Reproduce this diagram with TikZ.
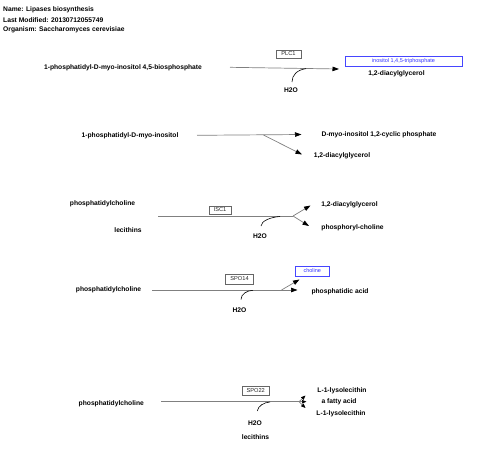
\documentclass[tikz,border=0pt]{standalone}
\usepackage{fontspec}
\setmainfont{Liberation Sans}
\usetikzlibrary{arrows.meta}
\begin{document}
\begin{tikzpicture}[x=1pt,y=-1pt,
  lbl/.style={font=\fontsize{6.7}{8}\selectfont\bfseries, inner sep=0pt},
  hdr/.style={lbl, anchor=west},
  gene/.style={draw=black!60, line width=0.6pt, font=\fontsize{5.7}{7}\selectfont, text=black!85, inner sep=0pt},
  meta/.style={draw={rgb,255:red,70;green,70;blue,255}, line width=0.6pt, text={rgb,255:red,50;green,50;blue,255}, font=\fontsize{5.5}{7}\selectfont, inner sep=0pt},
  rxn/.style={draw=black!50, line width=0.7pt},
  arr/.style={-{Triangle[length=6.5pt,width=4.5pt,color=black]}},
  tiny/.style={-{Triangle[length=4.5pt,width=3.5pt,color=black]}},
  cat/.style={draw=black, line width=0.6pt}
]
\useasboundingbox (0,0) rectangle (480,456);

% header
\node[hdr] (name) at (3,10) {Name: Lipases biosynthesis};
\node[hdr] (mod) at (3,20) {Last Modified: 20130712055749};
\node[hdr] (org) at (3,30) {Organism: Saccharomyces cerevisiae};

% row 1
\node[lbl] (a1) at (123,68) {1-phosphatidyl-D-myo-inositol 4,5-biosphosphate};
\node[gene, minimum width=25pt, minimum height=8pt] (plc1) at (288.5,54) {PLC1};
\node[meta, minimum width=117pt, minimum height=9.5pt] (ip3) at (403.5,61.5) {inositol 1,4,5-triphosphate};
\node[lbl] (dag1) at (396.5,74) {1,2-diacylglycerol};
\node[lbl] (h2o1) at (291,90) {H2O};
\coordinate (a1s) at (230,67.3);
\coordinate (a1e) at (339,69);
\coordinate (a1c) at (292,82);
\coordinate (a1k) at (306,68.6);
\draw[rxn,arr] (a1s) -- (a1e);
\draw[cat] (a1c) .. controls (292,75) and (297,70) .. (a1k);

% row 2
\node[lbl] (b1) at (130,136) {1-phosphatidyl-D-myo-inositol};
\node[lbl] (b2) at (379,135) {D-myo-inositol 1,2-cyclic phosphate};
\node[lbl] (b3) at (342,155.5) {1,2-diacylglycerol};
\coordinate (b1s) at (197,135.3);
\coordinate (b1m) at (263.5,135);
\coordinate (b1e) at (301.5,134.5);
\coordinate (b2e) at (302,154.5);
\draw[rxn,arr] (b1s) -- (b1e);
\draw[rxn,arr] (b1m) -- (b2e);

% row 3
\node[lbl] (c1) at (102.5,204) {phosphatidylcholine};
\node[lbl] (c2) at (128,230) {lecithins};
\node[gene, minimum width=22pt, minimum height=8pt] (isc1) at (220,210) {ISC1};
\node[lbl] (h2o3) at (260,236) {H2O};
\node[lbl] (c3) at (349.5,205) {1,2-diacylglycerol};
\node[lbl] (c4) at (352.5,227.5) {phosphoryl-choline};
\coordinate (c1s) at (158,216);
\coordinate (c1m) at (293,216);
\coordinate (c1e1) at (310.5,205.5);
\coordinate (c1e2) at (309,226);
\coordinate (c1c) at (261,226);
\coordinate (c1k) at (280,216.5);
\draw[rxn] (c1s) -- (c1m);
\draw[rxn,arr] (c1m) -- (c1e1);
\draw[rxn,arr] (c1m) -- (c1e2);
\draw[cat] (c1c) .. controls (261,221) and (271,217) .. (c1k);

% row 4
\node[lbl] (d1) at (108.5,290) {phosphatidylcholine};
\node[gene, minimum width=27.5pt, minimum height=10pt] (spo14) at (239.5,279) {SPO14};
\node[lbl] (h2o4) at (239.5,310.5) {H2O};
\node[meta, minimum width=34pt, minimum height=10pt] (cho) at (312.3,271) {choline};
\node[lbl] (d2) at (340,292) {phosphatidic acid};
\coordinate (d1s) at (152,290);
\coordinate (d1e) at (297.5,290);
\coordinate (d1m) at (281.5,290);
\coordinate (d2e) at (299.5,279.5);
\coordinate (d1c) at (241,299.5);
\coordinate (d1k) at (253,290.3);
\draw[rxn,arr] (d1s) -- (d1e);
\draw[rxn,arr] (d1m) -- (d2e);
\draw[cat] (d1c) .. controls (241,294) and (247,290.5) .. (d1k);

% row 5
\node[lbl] (e1) at (111.3,404) {phosphatidylcholine};
\node[gene, minimum width=26.7pt, minimum height=9.3pt] (spo22) at (255.7,390.7) {SPO22};
\node[lbl] (h2o5) at (255,422.7) {H2O};
\node[lbl] (e2) at (255.5,436.7) {lecithins};
\node[lbl] (e3) at (342,391) {L-1-lysolecithin};
\node[lbl] (e4) at (339,401.7) {a fatty acid};
\node[lbl] (e5) at (341,413.3) {L-1-lysolecithin};
\coordinate (e1s) at (161,401.7);
\coordinate (e1m) at (299,401.7);
\coordinate (e1t1) at (305.5,395.5);
\coordinate (e1t2) at (306.5,401.7);
\coordinate (e1t3) at (305.5,408);
\coordinate (e1c) at (257.3,411);
\coordinate (e1k) at (270,402);
\draw[rxn] (e1s) -- (e1m);
\draw[rxn,tiny] (e1m) -- (e1t1);
\draw[rxn,tiny] (e1m) -- (e1t2);
\draw[rxn,tiny] (e1m) -- (e1t3);
\draw[cat] (e1c) .. controls (258,406) and (264,402.3) .. (e1k);
\end{tikzpicture}
\end{document}
